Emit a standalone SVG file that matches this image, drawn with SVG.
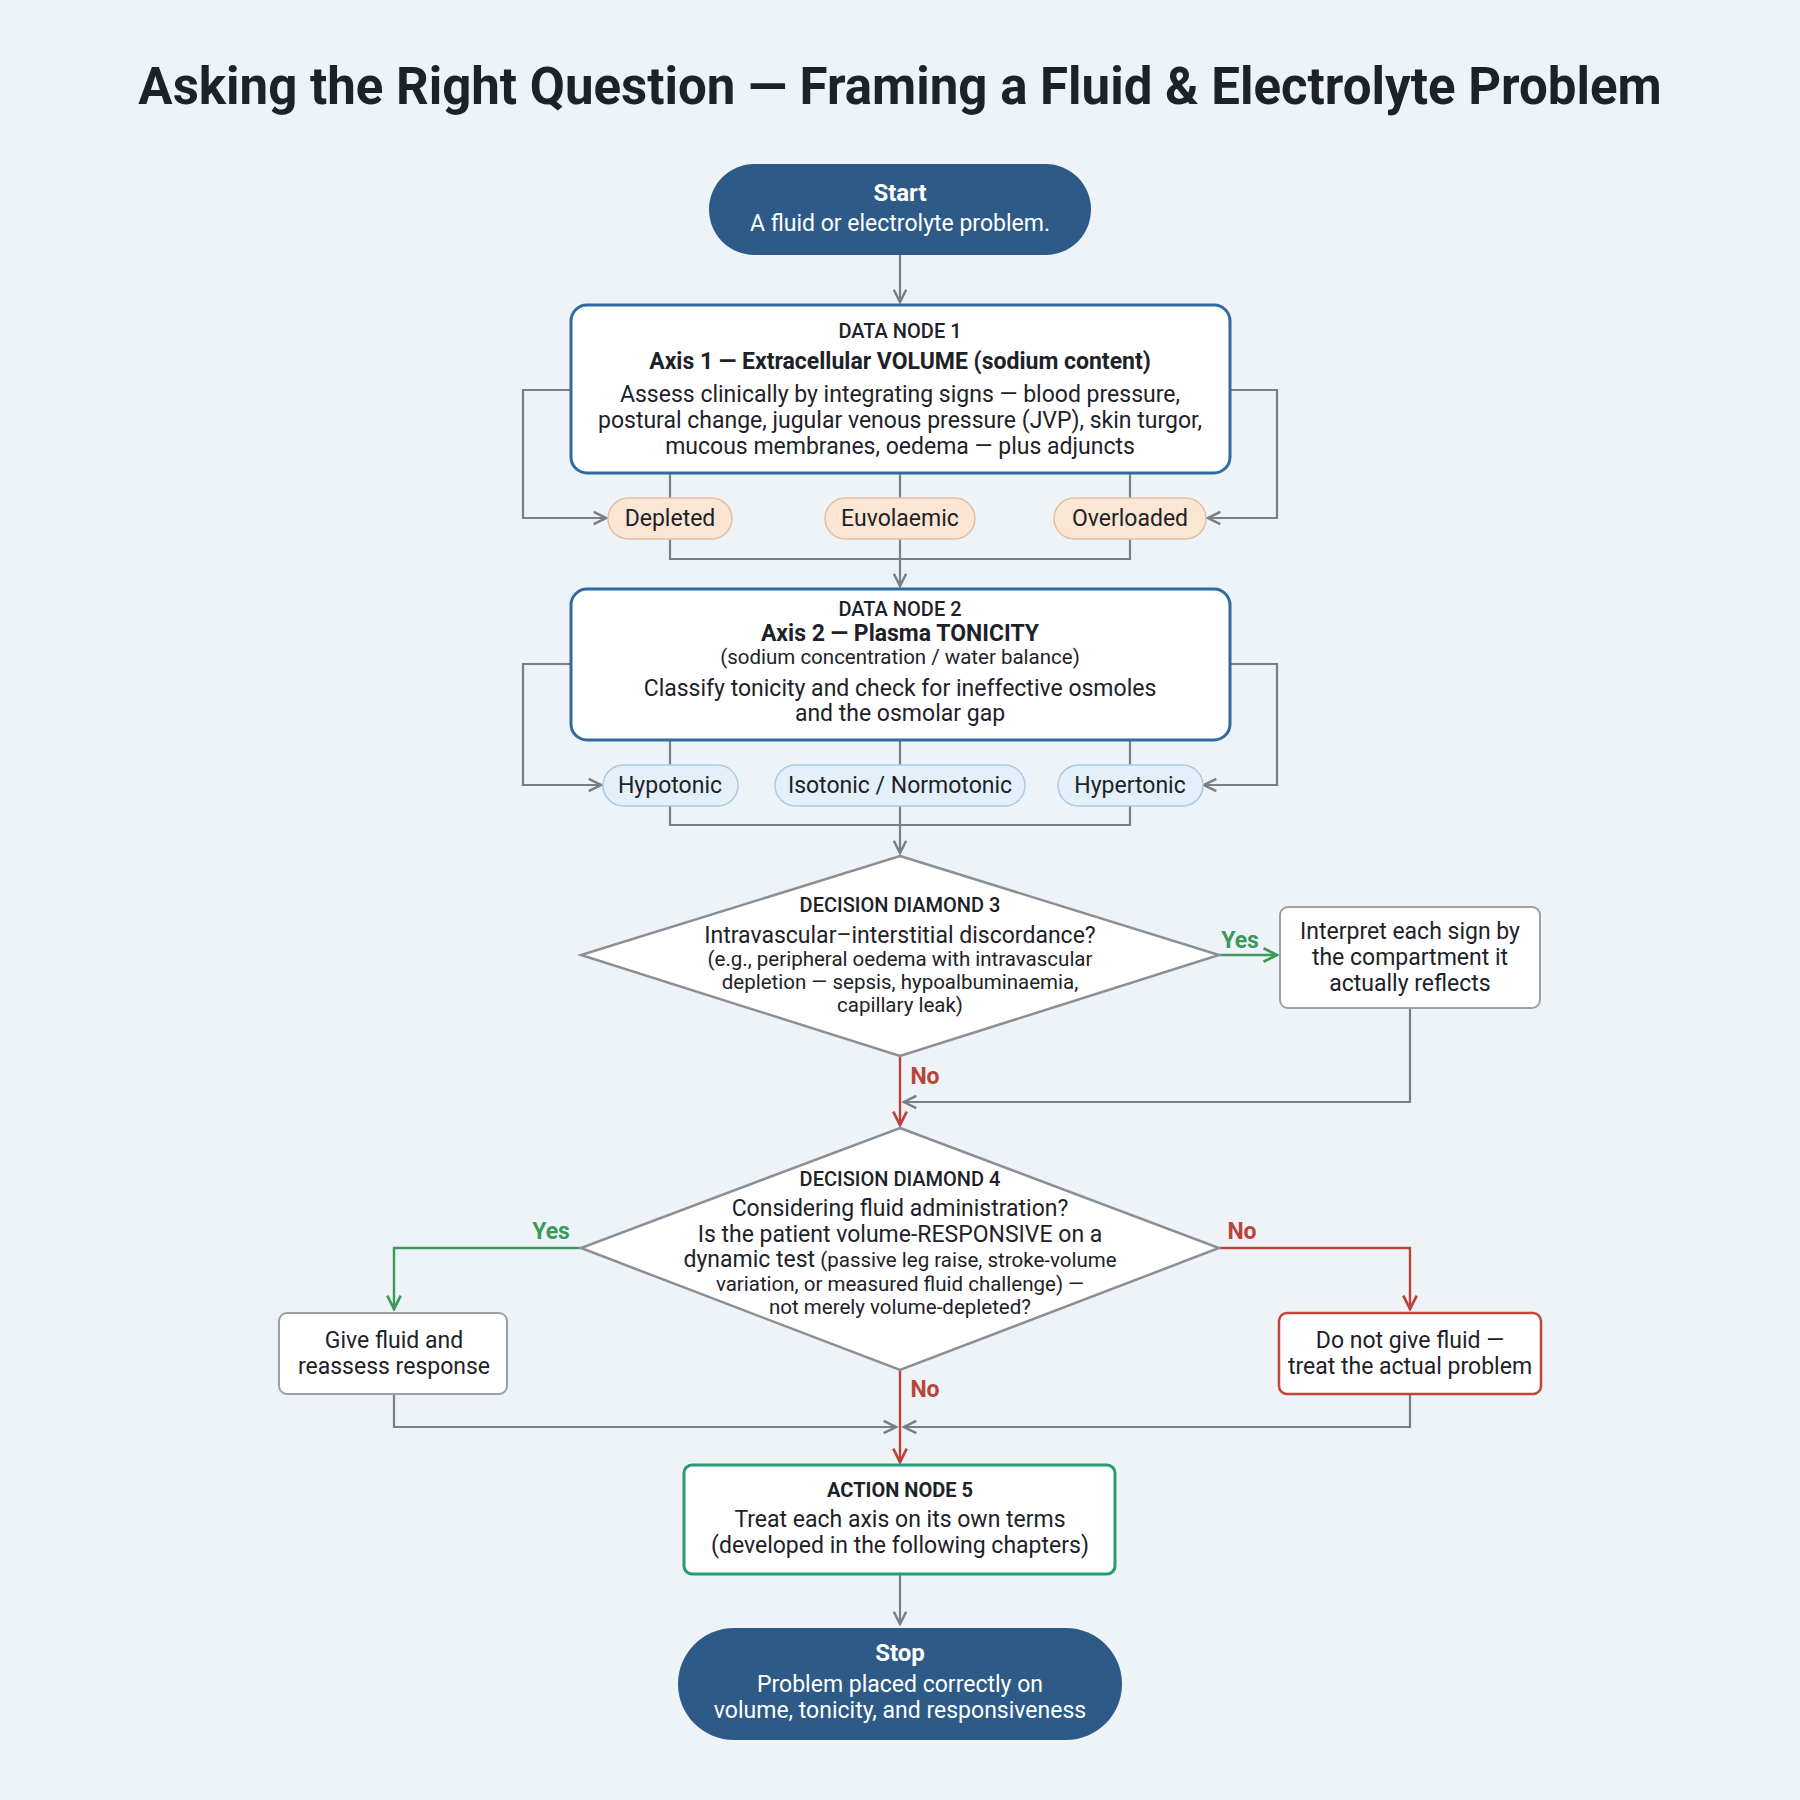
<svg xmlns="http://www.w3.org/2000/svg" width="1800" height="1800" viewBox="0 0 1800 1800">
<defs>
<marker id="ag" viewBox="0 0 10 10" refX="9" refY="5" markerWidth="7" markerHeight="7" orient="auto-start-reverse"><path d="M1,1 L9,5 L1,9" fill="none" stroke="#7a7f86" stroke-width="1.6"/></marker>
<marker id="ar" viewBox="0 0 10 10" refX="9" refY="5" markerWidth="7" markerHeight="7" orient="auto"><path d="M1,1 L9,5 L1,9" fill="none" stroke="#b8443a" stroke-width="1.6"/></marker>
<marker id="agr" viewBox="0 0 10 10" refX="9" refY="5" markerWidth="7" markerHeight="7" orient="auto"><path d="M1,1 L9,5 L1,9" fill="none" stroke="#3a9a5b" stroke-width="1.6"/></marker>
</defs>
<style>
text{font-family:Roboto,"Liberation Sans",sans-serif;fill:#1d2228;text-anchor:middle}
.t{font-size:23px}
.s{font-size:20.5px}
.h{font-size:20px;font-weight:500}
.b{font-weight:bold}
.w{fill:#fff}
.node{fill:#fff;stroke:#2e6b9e;stroke-width:3}
.box{fill:#fff;stroke:#9aa0a6;stroke-width:2}
.pillA{fill:#fbe6d4;stroke:#e2bfa3;stroke-width:1.5}
.pillB{fill:#e3f0fa;stroke:#a9cbe4;stroke-width:1.5}
.c{fill:none;stroke:#7a7f86;stroke-width:2.2}
.cr{fill:none;stroke:#b8443a;stroke-width:2.4}
.cg{fill:none;stroke:#3a9a5b;stroke-width:2.4}
</style>
<rect width="1800" height="1800" fill="#eef3f8"/>
<text x="900" y="104" style="font-size:51px;font-weight:bold">Asking the Right Question — Framing a Fluid &amp; Electrolyte Problem</text>

<g id="connectors">
<path class="c" d="M900,255 V302" marker-end="url(#ag)"/>
<path class="c" d="M670,473 V498 M900,473 V498 M1130,473 V498"/>
<path class="c" d="M571,390 H523 V518 H606" marker-end="url(#ag)"/>
<path class="c" d="M1230,390 H1277 V518 H1208" marker-end="url(#ag)"/>
<path class="c" d="M670,539 V559 H900 M1130,539 V559 H900 M900,539 V586" marker-end="url(#ag)"/>
<path class="c" d="M670,740 V765 M900,740 V765 M1130,740 V765"/>
<path class="c" d="M571,664 H523 V785 H601" marker-end="url(#ag)"/>
<path class="c" d="M1230,664 H1277 V785 H1204" marker-end="url(#ag)"/>
<path class="c" d="M670,806 V825 H900 M1130,806 V825 H900 M900,806 V853" marker-end="url(#ag)"/>
<path class="cg" d="M1219,955 H1277" marker-end="url(#agr)"/>
<text x="1240" y="948" class="t b" style="fill:#3a9a5b">Yes</text>
<path class="c" d="M1410,1008 V1102 H904" marker-end="url(#ag)"/>
<path class="cr" d="M900,1056 V1125" marker-end="url(#ar)"/>
<text x="925" y="1084" class="t b" style="fill:#b8443a">No</text>
<path class="cg" d="M581,1248 H394 V1309" marker-end="url(#agr)"/>
<text x="551" y="1239" class="t b" style="fill:#3a9a5b">Yes</text>
<path class="cr" d="M1219,1248 H1410 V1309" marker-end="url(#ar)"/>
<text x="1242" y="1239" class="t b" style="fill:#b8443a">No</text>
<path class="cr" d="M900,1370 V1462" marker-end="url(#ar)"/>
<text x="925" y="1397" class="t b" style="fill:#b8443a">No</text>
<path class="c" d="M394,1394 V1427 H896" marker-end="url(#ag)"/>
<path class="c" d="M1410,1394 V1427 H904" marker-end="url(#ag)"/>
<path class="c" d="M900,1574 V1624" marker-end="url(#ag)"/>
</g>

<g id="start">
<rect x="709" y="164" width="382" height="91" rx="45.5" fill="#2d5a87"/>
<text x="900" y="201" class="t b w" style="font-size:24px">Start</text>
<text x="900" y="231" class="t w">A fluid or electrolyte problem.</text>
</g>

<g id="node1">
<rect class="node" x="571" y="305" width="659" height="168" rx="16"/>
<text x="900" y="338" class="h">DATA NODE 1</text>
<text x="900" y="369" class="t b">Axis 1 — Extracellular VOLUME (sodium content)</text>
<text x="900" y="402" class="t">Assess clinically by integrating signs — blood pressure,</text>
<text x="900" y="428" class="t">postural change, jugular venous pressure (JVP), skin turgor,</text>
<text x="900" y="454" class="t">mucous membranes, oedema — plus adjuncts</text>
</g>
<g id="depleted"><rect class="pillA" x="608" y="498" width="124" height="41" rx="20.5"/><text x="670" y="526" class="t">Depleted</text></g>
<g id="euvolaemic"><rect class="pillA" x="825" y="498" width="150" height="41" rx="20.5"/><text x="900" y="526" class="t">Euvolaemic</text></g>
<g id="overloaded"><rect class="pillA" x="1054" y="498" width="152" height="41" rx="20.5"/><text x="1130" y="526" class="t">Overloaded</text></g>

<g id="node2">
<rect class="node" x="571" y="589" width="659" height="151" rx="16"/>
<text x="900" y="616" class="h">DATA NODE 2</text>
<text x="900" y="641" class="t b">Axis 2 — Plasma TONICITY</text>
<text x="900" y="664" class="s">(sodium concentration / water balance)</text>
<text x="900" y="696" class="t">Classify tonicity and check for ineffective osmoles</text>
<text x="900" y="721" class="t">and the osmolar gap</text>
</g>
<g id="hypotonic"><rect class="pillB" x="603" y="765" width="135" height="41" rx="20.5"/><text x="670" y="793" class="t">Hypotonic</text></g>
<g id="isotonic"><rect class="pillB" x="775" y="765" width="250" height="41" rx="20.5"/><text x="900" y="793" class="t">Isotonic / Normotonic</text></g>
<g id="hypertonic"><rect class="pillB" x="1058" y="765" width="145" height="41" rx="20.5"/><text x="1130" y="793" class="t">Hypertonic</text></g>

<g id="diamond3">
<polygon points="900,856 1219,955 900,1056 581,955" fill="#fff" stroke="#8a8f96" stroke-width="2.5"/>
<text x="900" y="912" class="h">DECISION DIAMOND 3</text>
<text x="900" y="943" class="t">Intravascular–interstitial discordance?</text>
<text x="900" y="966" class="s">(e.g., peripheral oedema with intravascular</text>
<text x="900" y="989" class="s">depletion — sepsis, hypoalbuminaemia,</text>
<text x="900" y="1012" class="s">capillary leak)</text>
</g>
<g id="interpret">
<rect class="box" x="1280" y="907" width="260" height="101" rx="8"/>
<text x="1410" y="939" class="t">Interpret each sign by</text>
<text x="1410" y="965" class="t">the compartment it</text>
<text x="1410" y="991" class="t">actually reflects</text>
</g>

<g id="diamond4">
<polygon points="900,1128 1219,1248 900,1370 581,1248" fill="#fff" stroke="#8a8f96" stroke-width="2.5"/>
<text x="900" y="1186" class="h">DECISION DIAMOND 4</text>
<text x="900" y="1216" class="t">Considering fluid administration?</text>
<text x="900" y="1242" class="t">Is the patient volume-RESPONSIVE on a</text>
<text x="900" y="1267" class="s"><tspan class="t">dynamic test</tspan> (passive leg raise, stroke-volume</text>
<text x="900" y="1291" class="s">variation, or measured fluid challenge) —</text>
<text x="900" y="1314" class="s">not merely volume-depleted?</text>
</g>
<g id="givefluid">
<rect class="box" x="279" y="1313" width="228" height="81" rx="8"/>
<text x="394" y="1348" class="t">Give fluid and</text>
<text x="394" y="1374" class="t">reassess response</text>
</g>
<g id="nofluid">
<rect x="1279" y="1313" width="262" height="81" rx="8" fill="#fff" stroke="#c0463a" stroke-width="2.5"/>
<text x="1410" y="1348" class="t">Do not give fluid —</text>
<text x="1410" y="1374" class="t">treat the actual problem</text>
</g>

<g id="action5">
<rect x="684" y="1465" width="431" height="109" rx="8" fill="#fff" stroke="#2a9a70" stroke-width="3"/>
<text x="900" y="1497" class="h b">ACTION NODE 5</text>
<text x="900" y="1527" class="t">Treat each axis on its own terms</text>
<text x="900" y="1553" class="t">(developed in the following chapters)</text>
</g>

<g id="stop">
<rect x="678" y="1628" width="444" height="112" rx="56" fill="#2d5a87"/>
<text x="900" y="1661" class="t b w" style="font-size:24px">Stop</text>
<text x="900" y="1692" class="t w">Problem placed correctly on</text>
<text x="900" y="1718" class="t w">volume, tonicity, and responsiveness</text>
</g>
</svg>
